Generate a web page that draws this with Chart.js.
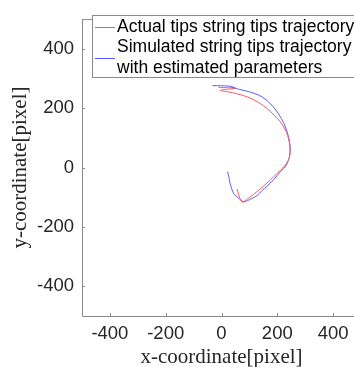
<!DOCTYPE html>
<html>
<head>
<meta charset="utf-8">
<script src="https://cdn.jsdelivr.net/npm/chart.js@4.4.1/dist/chart.umd.min.js"></script>
<style>
  html, body { margin: 0; padding: 0; background: #fff; overflow: hidden; }
  #wrap { width: 354px; height: 367px; overflow: hidden; }
</style>
</head>
<body>
<div id="wrap"><canvas id="chart" width="363" height="367"></canvas></div>
<script>
// axis ticks
const xTicks = [-400, -200, 0, 200, 400];
const yTicks = [-400, -200, 0, 200, 400];

// actual tips trajectory (red)
const actualX = [-11, 50, -4, 40, 92, 133, 163, 190, 211, 227, 237, 243, 246, 244, 238, 226, 211, 188, 163, 139, 115, 95, 76, 70, 64, 56];
const actualY = [270, 267, 260, 252, 238, 219, 199, 175, 154, 130, 108, 85, 60, 38, 22, 5, -9, -30, -52, -72, -90, -104, -117, -112, -98, -72];

// simulated trajectory (blue)
const simX = [-32, 30, 50, 35, 70, 100, 133, 160, 185, 205, 222, 235, 243, 246, 245, 240, 228, 211, 188, 163, 145, 127, 105, 82, 72, 60, 44, 36, 30, 26, 22];
const simY = [276, 274, 268, 270, 262, 255, 244, 228, 205, 180, 152, 121, 92, 67, 45, 24, 2, -14, -40, -63, -78, -95, -106, -115, -112, -102, -88, -70, -50, -30, -14];

const legendLabels = [["Actual tips string tips trajectory"], ["Simulated string tips trajectory", "with estimated parameters"]];
const seriesColors = ["#ff5a5a", "#5a5aff"];

function toPoints(xs, ys) {
    return xs.map((x, i) => ({ x: x, y: ys[i] }));
}

// ➤ frame, inward ticks and legend box
const framePlugin = {
    id: "frame",
    afterDraw(chart) {
        const ctx = chart.ctx;
        const a = chart.chartArea;
        const xs = chart.scales.x, ys = chart.scales.y;
        ctx.save();
        ctx.strokeStyle = "#8a8a8a";
        ctx.lineWidth = 1;
        ctx.beginPath();
        ctx.moveTo(a.left + 0.5, a.top + 0.5);
        ctx.lineTo(a.left + 0.5, a.bottom + 0.5);
        ctx.lineTo(a.right, a.bottom + 0.5);
        ctx.moveTo(a.left, a.top + 0.5);
        ctx.lineTo(a.right, a.top + 0.5);
        xTicks.forEach(v => {
            const px = Math.round(xs.getPixelForValue(v)) + 0.5;
            ctx.moveTo(px, a.bottom); ctx.lineTo(px, a.bottom - 3);
            ctx.moveTo(px, a.top); ctx.lineTo(px, a.top + 3);
        });
        yTicks.forEach(v => {
            const py = Math.round(ys.getPixelForValue(v)) + 0.5;
            ctx.moveTo(a.left, py); ctx.lineTo(a.left + 3, py);
        });
        ctx.stroke();

        // legend
        const bx = 92, by = 15, bw = 300, bh = 62;
        ctx.fillStyle = "#fff";
        ctx.fillRect(bx, by, bw, bh);
        ctx.strokeStyle = "#8a8a8a";
        ctx.strokeRect(bx + 0.5, by + 0.5, bw, bh);
        ctx.font = "17.5px 'Liberation Sans', Arial, sans-serif";
        ctx.fillStyle = "#000";
        ctx.textBaseline = "middle";
        const lineH = 20.5;
        let y = 27;
        legendLabels.forEach((lines, i) => {
            const mid = y + (lines.length - 1) * lineH / 2;
            ctx.strokeStyle = seriesColors[i];
            ctx.beginPath();
            ctx.moveTo(95, Math.round(mid) + 0.5);
            ctx.lineTo(115, Math.round(mid) + 0.5);
            ctx.stroke();
            lines.forEach(t => {
                ctx.fillText(t, 117, y);
                y += lineH;
            });
        });
        ctx.restore();
    }
};

new Chart(document.getElementById("chart").getContext("2d"), {
    type: "scatter",
    data: {
        datasets: [
            {
                label: "Actual tips string tips trajectory",
                data: toPoints(actualX, actualY),
                showLine: true,
                borderColor: seriesColors[0],
                borderWidth: 1,
                pointRadius: 0,
                tension: 0.3
            },
            {
                label: "Simulated string tips trajectory with estimated parameters",
                data: toPoints(simX, simY),
                showLine: true,
                borderColor: seriesColors[1],
                borderWidth: 1,
                pointRadius: 0,
                tension: 0.3
            }
        ]
    },
    options: {
        responsive: false,
        animation: false,
        devicePixelRatio: 1,
        layout: { padding: { top: 10, right: 2, left: 0, bottom: 0 } },
        plugins: { legend: { display: false }, tooltip: { enabled: false } },
        scales: {
            x: {
                type: "linear",
                min: -500,
                max: 500,
                afterBuildTicks: s => { s.ticks = xTicks.map(v => ({ value: v })); },
                afterFit: s => { s.height = 51; },
                grid: { display: false, drawTicks: false },
                border: { display: false },
                ticks: { color: "#262626", padding: 7, maxRotation: 0, font: { family: "'Liberation Sans', Arial, sans-serif", size: 18.5 } },
                title: { display: true, text: "x-coordinate[pixel]", color: "#262626", padding: { top: 0, bottom: -3 }, font: { family: "'Liberation Serif', serif", size: 21 } }
            },
            y: {
                type: "linear",
                min: -500,
                max: 500,
                afterBuildTicks: s => { s.ticks = yTicks.map(v => ({ value: v })); },
                afterFit: s => { s.width = 82; },
                grid: { display: false, drawTicks: false },
                border: { display: false },
                ticks: { color: "#262626", padding: 8, font: { family: "'Liberation Sans', Arial, sans-serif", size: 18.5 } },
                title: { display: true, text: "y-coordinate[pixel]", color: "#262626", padding: { top: 8, bottom: 0 }, font: { family: "'Liberation Serif', serif", size: 21 } }
            }
        }
    },
    plugins: [framePlugin]
});
</script>
</body>
</html>
